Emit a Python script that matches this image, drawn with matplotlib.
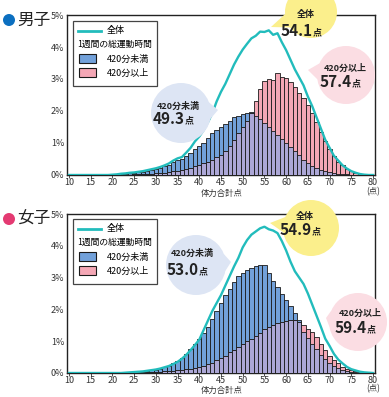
import numpy as np
import matplotlib
matplotlib.use("Agg")
import matplotlib.pyplot as plt
from matplotlib.patches import Circle, Polygon, Rectangle

plt.rcParams['font.family'] = ['Noto Sans CJK JP', 'DejaVu Sans']

# score bins for bars and the total line
bar_x = list(range(21, 79))
line_x = list(range(10, 81))

# male (%)
male_under = [0.02, 0.03, 0.04, 0.05, 0.06, 0.08, 0.10, 0.12, 0.15, 0.18,
              0.22, 0.27, 0.32, 0.40, 0.46, 0.50, 0.60, 0.70, 0.80, 0.90,
              1.00, 1.15, 1.30, 1.42, 1.50, 1.58, 1.70, 1.82, 1.85, 1.90,
              1.95, 1.97, 1.85, 1.75, 1.62, 1.50, 1.38, 1.25, 1.12, 1.00,
              0.88, 0.76, 0.62, 0.48, 0.37, 0.29, 0.22, 0.16, 0.12, 0.09,
              0.06, 0.04, 0.03, 0.02, 0.01, 0.01, 0.00, 0.00]
male_over = [0.00, 0.01, 0.01, 0.01, 0.02, 0.02, 0.03, 0.03, 0.04, 0.05,
             0.06, 0.07, 0.09, 0.11, 0.13, 0.15, 0.18, 0.22, 0.27, 0.31,
             0.36, 0.42, 0.48, 0.55, 0.62, 0.75, 0.92, 1.10, 1.30, 1.50,
             1.70, 1.95, 2.32, 2.70, 2.95, 3.00, 2.98, 3.20, 3.05, 3.02,
             2.90, 2.75, 2.55, 2.40, 2.20, 1.95, 1.65, 1.35, 1.05, 0.80,
             0.58, 0.42, 0.30, 0.20, 0.12, 0.07, 0.04, 0.02]
male_total = [0, 0, 0, 0, 0, 0, 0, 0, 0, 0,
              0.01, 0.02, 0.04, 0.05, 0.07, 0.08, 0.10, 0.12, 0.15, 0.18,
              0.21, 0.25, 0.30, 0.36, 0.45, 0.52, 0.56, 0.70, 0.85, 1.05,
              1.20, 1.40, 1.65, 1.93, 2.30, 2.60, 2.85, 3.15, 3.45, 3.70,
              3.92, 4.10, 4.27, 4.35, 4.48, 4.47, 4.52, 4.38, 4.43, 4.15,
              3.90, 3.60, 3.30, 3.05, 2.80, 2.45, 2.15, 1.80, 1.45, 1.10,
              0.85, 0.60, 0.45, 0.30, 0.20, 0.12, 0.07, 0.03, 0.01, 0.00,
              0.00]

# female (%)
female_under = [0.00, 0.00, 0.01, 0.02, 0.03, 0.04, 0.05, 0.07, 0.09, 0.11,
                0.14, 0.18, 0.22, 0.30, 0.38, 0.48, 0.60, 0.75, 0.92, 1.08,
                1.25, 1.45, 1.70, 1.95, 2.20, 2.45, 2.65, 2.85, 3.05, 3.13,
                3.25, 3.30, 3.35, 3.40, 3.40, 3.15, 2.90, 2.72, 2.50, 2.30,
                2.10, 1.88, 1.68, 1.30, 1.10, 0.92, 0.75, 0.58, 0.44, 0.32,
                0.22, 0.15, 0.10, 0.06, 0.04, 0.02, 0.01, 0.00]
female_over = [0.00, 0.00, 0.00, 0.01, 0.01, 0.01, 0.02, 0.02, 0.03, 0.03,
               0.04, 0.05, 0.06, 0.07, 0.09, 0.10, 0.12, 0.14, 0.16, 0.18,
               0.22, 0.27, 0.33, 0.40, 0.46, 0.55, 0.65, 0.72, 0.82, 0.92,
               1.00, 1.08, 1.17, 1.27, 1.37, 1.45, 1.50, 1.56, 1.60, 1.65,
               1.68, 1.68, 1.60, 1.50, 1.38, 1.28, 1.12, 0.92, 0.72, 0.55,
               0.40, 0.30, 0.20, 0.14, 0.09, 0.05, 0.03, 0.01]
female_total = [0, 0, 0, 0, 0, 0, 0, 0, 0, 0, 0, 0, 0,
                0.01, 0.02, 0.03, 0.04, 0.05, 0.07, 0.09, 0.11, 0.14, 0.18,
                0.22, 0.28, 0.35, 0.45, 0.57, 0.72, 0.88, 1.05, 1.35, 1.65,
                1.95, 2.20, 2.45, 2.75, 3.05, 3.35, 3.62, 3.95, 4.18, 4.35,
                4.45, 4.55, 4.60, 4.52, 4.48, 4.40, 4.15, 3.85, 3.50, 3.20,
                3.00, 2.80, 2.50, 2.15, 1.80, 1.45, 1.08, 0.85, 0.60, 0.42,
                0.30, 0.19, 0.12, 0.08, 0.04, 0.02, 0.01, 0.00]

xticks = list(range(10, 81, 5))
yticks = [0, 1, 2, 3, 4, 5]

BLUE = '#72a1da'
PINK = '#f4a7b5'
MIX = '#aca7d6'
TEAL = '#22bcbc'

W, H = 389, 397
fig = plt.figure(figsize=(W / 100, H / 100), dpi=100)


def panel(top, bottom, under, over, total):
    ax = fig.add_axes([67 / W, 1 - bottom / H, 308 / W, (bottom - top) / H])
    under = np.array(under)
    over = np.array(over)
    kw = dict(width=1.0, edgecolor='#1a1a1a', linewidth=0.6)
    ax.bar(bar_x, under, color=BLUE, zorder=2, **kw)
    ax.bar(bar_x, over, color=PINK, zorder=3, **kw)
    ax.bar(bar_x, np.minimum(under, over), color=MIX, zorder=4, **kw)
    ax.plot(line_x, total, color=TEAL, lw=1.7, zorder=5)
    ax.set_xlim(9.55, 80.45)
    ax.set_ylim(0, 5)
    ax.set_xticks(xticks)
    ax.set_yticks(yticks)
    ax.set_yticklabels([f'{v}%' for v in yticks])
    ax.tick_params(axis='x', length=2, width=0.6, pad=0, labelsize=6.5,
                   colors='#333333')
    ax.tick_params(axis='y', length=0, pad=2, labelsize=6.5, colors='#333333')
    for s in ax.spines.values():
        s.set_linewidth(1.0)
        s.set_color('#222222')
    return ax


panel(15, 175, male_under, male_over, male_total)
panel(214, 373, female_under, female_over, female_total)

# overlay in pixel coordinates for titles, legends and bubbles
ov = fig.add_axes([0, 0, 1, 1], zorder=10)
ov.set_xlim(0, W)
ov.set_ylim(H, 0)
ov.axis('off')
ov.patch.set_alpha(0)


def title(y, text, color):
    ov.add_patch(Circle((9, y), 6, color=color, lw=0))
    ov.text(17, y, text, fontsize=12, va='center', ha='left', color='#222222')


def legend(y0):
    ov.add_patch(Rectangle((73, y0), 84, 65, facecolor='white',
                           edgecolor='#444444', lw=0.9))
    ov.plot([78, 101], [y0 + 10, y0 + 10], color=TEAL, lw=2)
    ov.text(107, y0 + 10, '全体', fontsize=6.5, va='center')
    ov.text(77, y0 + 23, '1週間の総運動時間', fontsize=6.3, va='center')
    ov.add_patch(Rectangle((79, y0 + 33), 17, 9, facecolor=BLUE,
                           edgecolor='#1a1a1a', lw=0.8))
    ov.text(107, y0 + 38, '420分未満', fontsize=6.5, va='center')
    ov.add_patch(Rectangle((79, y0 + 47), 17, 9, facecolor=PINK,
                           edgecolor='#1a1a1a', lw=0.8))
    ov.text(107, y0 + 52, '420分以上', fontsize=6.5, va='center')


def bubble(cx, cy, r, tip, color, label, value, ty1, ty2, tx):
    ang = np.arctan2(tip[1] - cy, tip[0] - cx)
    a1, a2 = ang - 0.28, ang + 0.28
    pts = [(cx + r * np.cos(a1), cy + r * np.sin(a1)), tip,
           (cx + r * np.cos(a2), cy + r * np.sin(a2)), (cx, cy)]
    ov.add_patch(Polygon(pts, closed=True, color=color, lw=0))
    ov.add_patch(Circle((cx, cy), r, color=color, lw=0))
    ov.text(tx, ty1, label, fontsize=6.5, fontweight='bold', ha='center',
            va='center', color='#222222')
    ov.text(tx + 7, ty2, value, fontsize=11, fontweight='bold', ha='right',
            va='center', color='#222222')
    ov.text(tx + 7, ty2 + 1.5, '点', fontsize=6.5, fontweight='bold', ha='left',
            va='center', color='#222222')


title(20, '男子', '#0b6fc0')
title(219, '女子', '#e43a72')
legend(21)
legend(219)

YEL = '#fbef8c'
PNK = '#fbdde3'
LBL = '#dde5f4'

bubble(311, 12, 26, (271, 27), YEL, '全体', '54.1', 14, 31, 306)
bubble(346, 75, 29, (308, 70), PNK, '420分以上', '57.4', 68, 82, 345)
bubble(181, 113, 30, (218, 110), LBL, '420分未満', '49.3', 106, 119, 178)

bubble(311, 228, 28, (270, 223), YEL, '全体', '54.9', 217, 230, 305)
bubble(196, 265, 30, (231, 262), LBL, '420分未満', '53.0', 253, 270, 192)
bubble(358, 322, 29, (326, 318), PNK, '420分以上', '59.4', 313, 328, 360)

for y in (193, 390):
    ov.text(222, y, '体力合計点', fontsize=6, ha='center', va='center',
            color='#333333')
    ov.text(373, y - 1, '(点)', fontsize=6, ha='center', va='center',
            color='#333333')

fig.savefig('out.png', dpi=100)
